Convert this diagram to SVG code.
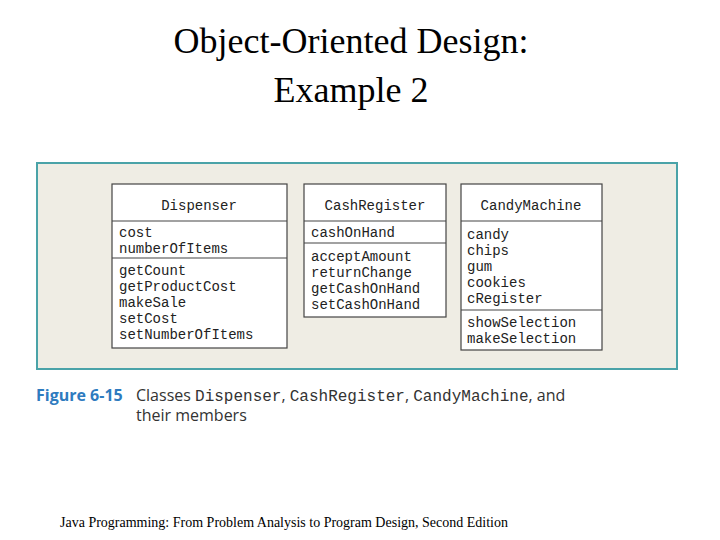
<svg xmlns="http://www.w3.org/2000/svg" width="720" height="540" viewBox="0 0 720 540">
<style>
.t{font-family:"Liberation Serif",serif;fill:#000}
.m{font-family:"Liberation Mono",monospace;font-size:14px;fill:#222}
.box{fill:#fff;stroke:#444;stroke-width:1.2}
.ln{stroke:#444;stroke-width:1.2}
.c{font-family:"Open Sans","Liberation Sans",sans-serif;font-size:16px;fill:#333}
.cm{font-family:"Liberation Mono",monospace;font-size:16px}
</style>
<rect width="720" height="540" fill="#fff"/>
<text class="t" x="351" y="53" font-size="36" text-anchor="middle">Object-Oriented Design:</text>
<text class="t" x="351" y="102" font-size="36" text-anchor="middle">Example 2</text>
<rect x="37" y="163" width="640" height="206" fill="#efede4" stroke="#4aa3a8" stroke-width="2"/>
<g id="dispenser">
<rect class="box" x="112" y="184" width="175" height="164"/>
<line class="ln" x1="112" y1="221" x2="287" y2="221"/>
<line class="ln" x1="112" y1="258" x2="287" y2="258"/>
<text class="m" x="199" y="210" text-anchor="middle">Dispenser</text>
<text class="m" x="119" y="237">cost</text>
<text class="m" x="119" y="253">numberOfItems</text>
<text class="m" x="119" y="275">getCount</text>
<text class="m" x="119" y="291">getProductCost</text>
<text class="m" x="119" y="307">makeSale</text>
<text class="m" x="119" y="323">setCost</text>
<text class="m" x="119" y="339">setNumberOfItems</text>
</g>
<g id="cashregister">
<rect class="box" x="304" y="184" width="142" height="133"/>
<line class="ln" x1="304" y1="221" x2="446" y2="221"/>
<line class="ln" x1="304" y1="243" x2="446" y2="243"/>
<text class="m" x="375" y="210" text-anchor="middle">CashRegister</text>
<text class="m" x="311" y="237">cashOnHand</text>
<text class="m" x="311" y="261">acceptAmount</text>
<text class="m" x="311" y="277">returnChange</text>
<text class="m" x="311" y="293">getCashOnHand</text>
<text class="m" x="311" y="309">setCashOnHand</text>
</g>
<g id="candymachine">
<rect class="box" x="461" y="184" width="141" height="166"/>
<line class="ln" x1="461" y1="221" x2="602" y2="221"/>
<line class="ln" x1="461" y1="310" x2="602" y2="310"/>
<text class="m" x="531" y="210" text-anchor="middle">CandyMachine</text>
<text class="m" x="467" y="239">candy</text>
<text class="m" x="467" y="255">chips</text>
<text class="m" x="467" y="271">gum</text>
<text class="m" x="467" y="287">cookies</text>
<text class="m" x="467" y="303">cRegister</text>
<text class="m" x="467" y="327">showSelection</text>
<text class="m" x="467" y="343">makeSelection</text>
</g>
<g id="connectors"/>
<text x="36" y="401" font-family="'Open Sans','Liberation Sans',sans-serif" font-size="16" font-weight="bold" fill="#2e7bbf">Figure 6-15</text>
<text class="c" x="136" y="401">Classes <tspan class="cm">Dispenser</tspan>, <tspan class="cm">CashRegister</tspan>, <tspan class="cm">CandyMachine</tspan>, and</text>
<text class="c" x="136" y="421">their members</text>
<text class="t" x="60" y="527" font-size="14">Java Programming: From Problem Analysis to Program Design, Second Edition</text>
</svg>
